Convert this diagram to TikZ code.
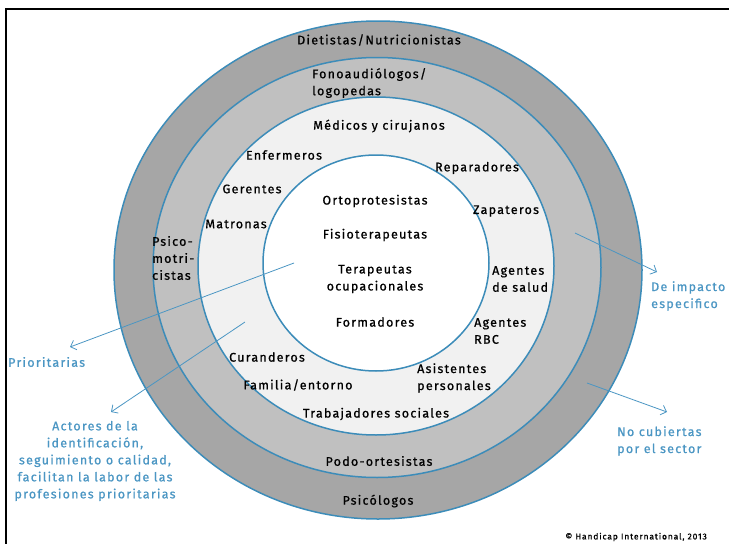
\documentclass[tikz,border=0pt]{standalone}
\usepackage{fontspec}
\setmainfont{Fira Sans}[LetterSpace=10,FakeBold=0.8]
\usetikzlibrary{arrows.meta}
\definecolor{ringblue}{RGB}{60,140,185}
\definecolor{noteblue}{RGB}{75,150,195}
\definecolor{darkring}{RGB}{166,166,166}
\definecolor{midring}{RGB}{192,192,192}
\definecolor{lightring}{RGB}{241,241,241}
\tikzset{
 ring/.style={draw=ringblue,line width=1.5pt},
 lbl/.style={font=\fontsize{12.5}{17}\selectfont,inner sep=0pt},
 note/.style={lbl,text=noteblue},
 pointer/.style={draw=noteblue,line width=0.8pt,-{Straight Barb[length=5pt,width=10pt]}}
}

\begin{document}
\begin{tikzpicture}[x=1pt,y=-1pt]
\useasboundingbox (0,0) rectangle (729,544);
\draw[line width=2pt] (6,544) |- (729,9);
% rings, outside in
\filldraw[ring,fill=darkring] (378,270) ellipse [x radius=264,y radius=249];
\filldraw[ring,fill=midring] (377,267.5) ellipse [x radius=224,y radius=210];
\filldraw[ring,fill=lightring] (376,266) ellipse [x radius=178,y radius=169];
\filldraw[ring,fill=white] (376,263) ellipse [x radius=113,y radius=108];
% outer rings
\node[lbl] (diet) at (379,40) {Dietistas/Nutricionistas};
\node[lbl] (psic) at (378,501) {Psicólogos};
\node[lbl,align=left,anchor=west] (fono) at (312,83) {Fonoaudiólogos/\\logopedas};
\node[lbl] (podo) at (379,461) {Podo-ortesistas};
\node[lbl,align=left,anchor=west] (psmo) at (152,258) {Psico-\\motri-\\cistas};
% third ring
\node[lbl] (medi) at (379,126) {Médicos y cirujanos};
\node[lbl] (enfe) at (284,155) {Enfermeros};
\node[lbl] (repa) at (477,168) {Reparadores};
\node[lbl] (gere) at (252,189) {Gerentes};
\node[lbl] (zapa) at (506,211) {Zapateros};
\node[lbl] (matr) at (236,224) {Matronas};
\node[lbl,align=left,anchor=west] (agsa) at (492,279) {Agentes\\de salud};
\node[lbl,align=left,anchor=west] (agrb) at (474,331) {Agentes\\RBC};
\node[lbl] (cura) at (267,357) {Curanderos};
\node[lbl,align=left,anchor=west] (asis) at (417,378) {Asistentes\\personales};
\node[lbl] (fami) at (298,385) {Familia/entorno};
\node[lbl] (trab) at (376,414) {Trabajadores sociales};
% inner circle
\node[lbl] (orto) at (375,201) {Ortoprotesistas};
\node[lbl] (fisi) at (375,235) {Fisioterapeutas};
\node[lbl,align=center] (tera) at (375,279) {Terapeutas\\ocupacionales};
\node[lbl] (form) at (375,322) {Formadores};
% notes
\node[note,anchor=west] (prio) at (8,362) {Prioritarias};
\node[note,align=center] (acto) at (95,461) {Actores de la\\identificación,\\seguimiento o calidad,\\facilitan la labor de las\\profesiones prioritarias};
\node[note,align=left,anchor=west] (espe) at (651,296) {De impacto\\especifico};
\node[note,align=left,anchor=west] (nocu) at (617,441) {No cubiertas\\por el sector};
\node[lbl,font=\fontsize{8.5}{10}\selectfont,anchor=east] (copy) at (707,537) {© Handicap International, 2013};
% pointers
\coordinate (fromprio) at (294,263);
\coordinate (toprio) at (70,347);
\coordinate (fromacto) at (245,322);
\coordinate (toacto) at (111,412);
\coordinate (fromespe) at (575,233);
\coordinate (toespe) at (657,272);
\coordinate (fromnocu) at (587,383);
\coordinate (tonocu) at (667,412);
\draw[pointer] (fromprio) -- (toprio);
\draw[pointer] (fromacto) -- (toacto);
\draw[pointer] (fromespe) -- (toespe);
\draw[pointer] (fromnocu) -- (tonocu);
\end{tikzpicture}
\end{document}
